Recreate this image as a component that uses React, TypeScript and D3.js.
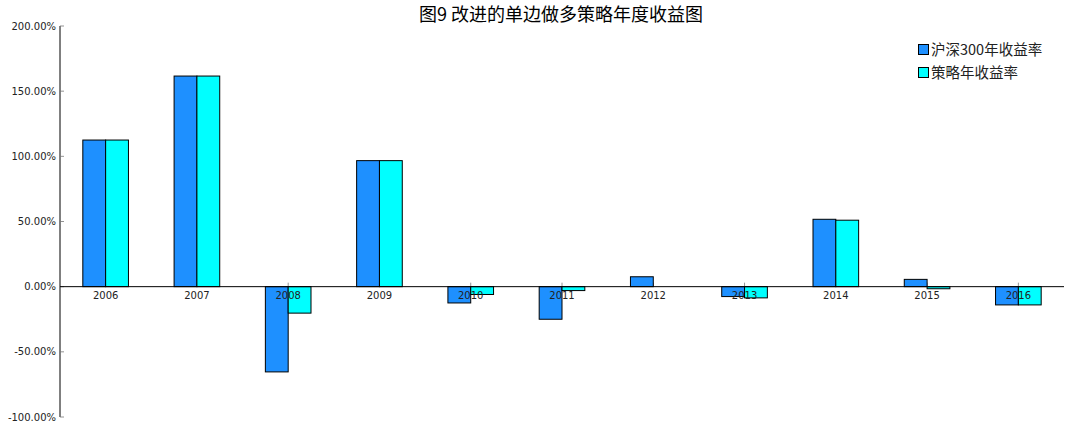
import React from "react";
import * as d3 from "d3";

const years = ["2006","2007","2008","2009","2010","2011","2012","2013","2014","2015","2016"];
const hs300 = [112.5, 161.6, -65.4, 96.7, -12.5, -25.0, 7.6, -7.6, 51.7, 5.6, -14.0];
const strategy = [112.5, 161.6, -20.3, 96.7, -6.0, -3.0, 0.0, -8.6, 51.0, -1.6, -14.0];
const yTicks = [-100, -50, 0, 50, 100, 150, 200];
const seriesNames = ["沪深300年收益率", "策略年收益率"];
const colors = ["#1E90FF", "#00FFFF"];

export default function App() {
  const W = 1070, H = 429;
  const left = 60, right = 1064, top = 26, bottom = 417;
  const x = d3.scaleBand<string>().domain(years).range([left, right]).padding(0);
  const y = d3.scaleLinear().domain([-100, 200]).range([bottom, top]);
  const bw = x.bandwidth() * 0.25;
  const y0 = y(0);
  const tickFont = "'DejaVu Sans', sans-serif";
  const cjkFont = "'Noto Sans CJK SC', 'DejaVu Sans', sans-serif";
  const series = [hs300, strategy];
  return (
    <svg width={W} height={H} style={{ position: "absolute", left: 0, top: 0 }}>
      <rect x={0} y={0} width={W} height={H} fill="#fff" />
      {/* x ticks */}
      {years.map((yr) => {
        const cx = x(yr)! + x.bandwidth() / 2;
        return <line key={"xt" + yr} x1={cx} x2={cx} y1={y0 - 4} y2={y0} stroke="#777" strokeWidth={0.8} />;
      })}
      {/* bars */}
      {series.map((vals, si) =>
        vals.map((v, i) => {
          const cx = x(years[i])! + x.bandwidth() / 2;
          const bx = si === 0 ? cx - bw : cx;
          const yTop = Math.min(y(v), y0);
          const h = Math.abs(y(v) - y0);
          return (
            <rect key={si + "-" + i} x={bx} y={yTop} width={bw} height={h}
              fill={colors[si]} stroke="#000" strokeWidth={1} />
          );
        })
      )}
      {/* y axis */}
      <line x1={left} x2={left} y1={top} y2={bottom} stroke="#000" strokeWidth={1} />
      {yTicks.map((t) => (
        <g key={"yt" + t}>
          <line x1={left} x2={left + 4} y1={y(t)} y2={y(t)} stroke="#777" strokeWidth={0.8} />
          <text x={left - 4} y={y(t)} dy="0.35em" textAnchor="end" fontSize={10} fontFamily={tickFont} fill="#222">
            {t.toFixed(2) + "%"}
          </text>
        </g>
      ))}
      {/* zero spine */}
      <line x1={left} x2={right} y1={y0} y2={y0} stroke="#000" strokeWidth={1} />
      {years.map((yr) => {
        const cx = x(yr)! + x.bandwidth() / 2;
        return (
          <text key={"xl" + yr} x={cx} y={y0 + 12} textAnchor="middle" fontSize={10} fontFamily={tickFont} fill="#222">
            {yr}
          </text>
        );
      })}
      {/* title */}
      <text x={561} y={21} textAnchor="middle" fontSize={18} fontFamily={cjkFont} fill="#000">
        图9 改进的单边做多策略年度收益图
      </text>
      {/* legend */}
      {seriesNames.map((n, i) => (
        <g key={"lg" + i}>
          <rect x={918.5} y={44.5 + i * 23} width={10} height={10} fill={colors[i]} stroke="#000" strokeWidth={1} />
          <text x={931} y={49.5 + i * 23} dy="0.35em" fontSize={14.5} fontFamily={cjkFont} fill="#222">
            {n}
          </text>
        </g>
      ))}
    </svg>
  );
}
